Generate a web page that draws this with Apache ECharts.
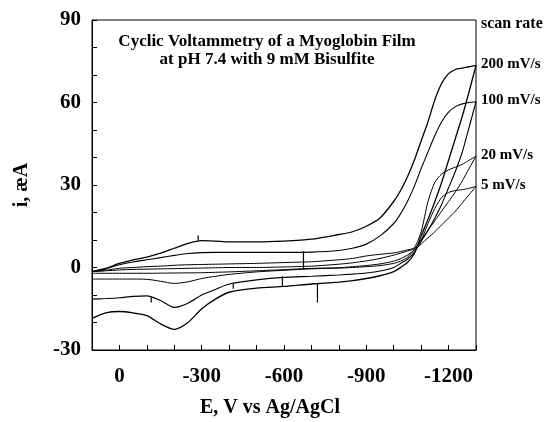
<!DOCTYPE html>
<html>
<head>
<meta charset="utf-8">
<script src="https://cdn.jsdelivr.net/npm/echarts@6/dist/echarts.min.js"></script>
<style>
  html, body { margin: 0; padding: 0; background: #fff; }
  #main { width: 548px; height: 422px; }
</style>
</head>
<body>
<div id="main"></div>
<script>
// potential grid, mV (forward sweep order; the return sweep uses it reversed)
var potentials = [100, 50, 0, -50, -100, -150, -200, -250, -300, -350, -400, -500, -600, -700, -800, -850,
  -900, -950, -1000, -1025, -1050, -1075, -1100, -1125, -1150, -1175, -1200, -1225, -1250, -1275, -1300];

// current, uA, on the forward sweep (100 -> -1300)
var fwd200 = [-1.5, -0.3, 1.5, 2.8, 3.8, 5.2, 7, 8.8, 9.8, 9.6, 9.3, 9.3, 9.6, 10.3, 12, 13,
  15, 18, 24, 28, 33, 39, 46, 53, 61, 67, 70.5, 72, 72.5, 73, 73.5];
var fwd100 = [-1.5, -0.5, 1, 2, 2.8, 3.6, 4.4, 5.1, 5.4, 5.5, 5.5, 5.5, 5.5, 5.6, 6.2, 7,
  8.5, 11.5, 16, 19.5, 24, 29.5, 36, 42, 48, 53, 56.5, 58.5, 59.5, 60, 60.3];
var fwd20 = [-1.5, -1, -0.3, 0, 0.3, 0.5, 0.8, 1, 1.1, 1.2, 1.3, 1.5, 1.8, 2.1, 2.8, 3.3,
  4.2, 4.8, 5.3, 5.8, 6.4, 7.2, 13, 24, 31, 34, 35.5, 36.5, 37.5, 39, 40.5];
var fwd5 = [-1.5, -1.2, -0.9, -0.7, -0.6, -0.5, -0.4, -0.3, -0.2, -0.1, 0, 0, 0.2, 0.5, 1.2, 1.7,
  2.4, 3.3, 4.5, 5.2, 6, 6.8, 10, 16, 21.5, 25.5, 27.3, 28, 28.3, 28.8, 29.5];

// current, uA, on the return sweep, listed on the same potential grid (100 ... -1300)
var rev200 = [-18.5, -16.5, -16, -16.5, -17.5, -20.5, -22.5, -20, -15, -11.5, -9, -7.5, -6.9, -6, -5.3, -4.8,
  -4, -3, -1.5, 0, 1.8, 5, 11.5, 17.5, 24, 31, 39, 47, 55, 64, 73.5];
var rev100 = [-11.5, -11.3, -11, -10.5, -10.3, -12, -14.5, -13, -10, -8, -6, -4.5, -3.6, -3.2, -2.7, -2.4,
  -2, -1.3, 0, 1.5, 3, 5.5, 9.5, 13.5, 18, 23, 29, 35, 42, 51, 60.3];
var rev20 = [-4.2, -4.2, -4.2, -4.2, -4.3, -5, -5.8, -5.2, -4, -3.2, -2.5, -1.6, -1, -0.5, -0.2, 0,
  0.3, 0.7, 1.5, 2.3, 3.7, 6.5, 10, 13.5, 17, 20.5, 24, 27.5, 31.5, 36, 40.5];
var rev5 = [-2.1, -2.1, -2.1, -2.1, -2.1, -2.05, -2, -1.95, -1.9, -1.75, -1.6, -1.2, -0.8, -0.3, -0.1, 0.3,
  0.7, 1.3, 2.3, 3.2, 4.5, 6.3, 8.5, 10.8, 13, 15.5, 18, 20.5, 23.5, 26.5, 29.5];

var scanRates = ['200 mV/s', '100 mV/s', '20 mV/s', '5 mV/s'];

// noise spikes seen on the fast scans: potential, top, bottom
var spikeE = [-671, -594, -722, -116, -415, -287];
var spikeTop = [5.9, -3.2, -6, -10.6, -6, 9.7];
var spikeBottom = [-0.5, -6.6, -12.7, -12.7, -7.7, 11.6];

var xTicks = [0, -300, -600, -900, -1200];
var yTicks = [-30, 0, 30, 60, 90];

var font = '"Liberation Serif", "DejaVu Serif", serif';

function loop(fwd, rev) {
  var pts = [];
  for (var i = 0; i < potentials.length; i++) pts.push([potentials[i], fwd[i]]);
  for (var j = potentials.length - 2; j >= 0; j--) pts.push([potentials[j], rev[j]]);
  return pts;
}

var loops = [loop(fwd200, rev200), loop(fwd100, rev100), loop(fwd20, rev20), loop(fwd5, rev5)];
var widths = [1.3, 1.1, 1, 1];

var series = loops.map(function (d, k) {
  return {
    name: scanRates[k],
    type: 'line',
    data: d,
    smooth: 0.25,
    showSymbol: false,
    lineStyle: { color: '#000', width: widths[k] },
    z: 3
  };
});
spikeE.forEach(function (e, k) {
  series.push({
    type: 'line',
    data: [[e, spikeTop[k]], [e, spikeBottom[k]]],
    showSymbol: false,
    lineStyle: { color: '#000', width: 1.2 },
    z: 3
  });
});

var myChart = echarts.init(document.getElementById('main'));

var gridLeft = 92, gridTop = 20, gridRight = 476, gridBottom = 350;
var yMin = -30, yMax = 90;
function yPix(v) { return gridBottom - (v - yMin) / (yMax - yMin) * (gridBottom - gridTop); }

var endLabels = loops.map(function (d, k) {
  var endVal = d[potentials.length - 1][1];
  return {
    type: 'text',
    left: 481,
    top: yPix(endVal) - 9,
    style: { text: scanRates[k], font: 'bold 15px ' + font, fill: '#000' }
  };
});

var option = {
  backgroundColor: '#fff',
  animation: false,
  grid: {
    left: gridLeft, top: gridTop, right: 548 - gridRight, bottom: 422 - gridBottom,
    containLabel: false, outerBoundsMode: 'none',
    show: true, borderColor: '#000', borderWidth: 1, backgroundColor: 'transparent'
  },
  xAxis: {
    type: 'value',
    inverse: true,
    min: -1300,
    max: 100,
    interval: 100,
    axisLine: { show: true, onZero: false, lineStyle: { color: '#000', width: 1 } },
    axisTick: { show: true, inside: true, length: 5, lineStyle: { color: '#000' } },
    splitLine: { show: false },
    axisLabel: {
      margin: 16,
      color: '#000',
      fontFamily: font,
      fontWeight: 'bold',
      fontSize: 21,
      formatter: function (v) { return xTicks.indexOf(v) >= 0 ? String(v) : ''; }
    }
  },
  yAxis: {
    type: 'value',
    min: yMin,
    max: yMax,
    interval: 10,
    axisLine: { show: true, onZero: false, lineStyle: { color: '#000', width: 1 } },
    axisTick: { show: true, inside: true, length: 5, lineStyle: { color: '#000' } },
    splitLine: { show: false },
    axisLabel: {
      margin: 11,
      color: '#000',
      fontFamily: font,
      fontWeight: 'bold',
      fontSize: 21,
      formatter: function (v) { return yTicks.indexOf(v) >= 0 ? String(v) : ''; }
    }
  },
  graphic: [
    {
      type: 'text',
      x: 267,
      y: 51,
      style: {
        text: 'Cyclic Voltammetry of a Myoglobin Film\nat pH 7.4 with 9 mM Bisulfite',
        font: 'bold 17px ' + font,
        fill: '#000',
        align: 'center',
        verticalAlign: 'middle',
        lineHeight: 18
      }
    },
    {
      type: 'text',
      x: 270,
      y: 408,
      style: { text: 'E, V vs Ag/AgCl', font: 'bold 20px ' + font, fill: '#000', align: 'center', verticalAlign: 'middle' }
    },
    {
      type: 'text',
      x: 22,
      y: 185,
      rotation: Math.PI / 2,
      style: { text: 'i, æA', font: 'bold 20px ' + font, fill: '#000', align: 'center', verticalAlign: 'middle' }
    },
    {
      type: 'text',
      left: 481,
      top: 16,
      style: { text: 'scan rate', font: 'bold 16px ' + font, fill: '#000' }
    }
  ].concat(endLabels),
  series: series
};

myChart.setOption(option);
</script>
</body>
</html>
